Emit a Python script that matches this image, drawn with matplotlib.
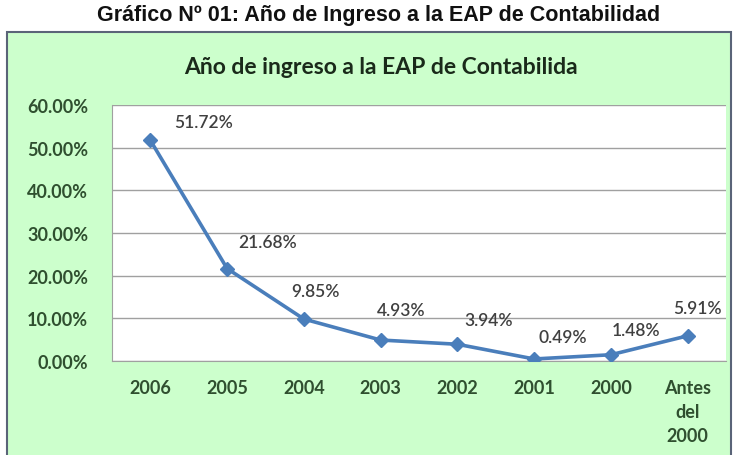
import matplotlib
matplotlib.use('Agg')
import matplotlib.pyplot as plt
from matplotlib.patches import Rectangle

# data
categorias = ['2006', '2005', '2004', '2003', '2002', '2001', '2000', 'Antes\ndel\n2000']
porcentajes = [51.72, 21.68, 9.85, 4.93, 3.94, 0.49, 1.48, 5.91]
yticks = [0, 10, 20, 30, 40, 50, 60]
# label offsets in pixels (dx, dy) from each point
offsets = [(53, 18), (40, 27), (12, 28), (21, 30), (31, 24), (29, 22), (25, 25), (10, 28)]

fig = plt.figure(figsize=(7.37, 4.56), dpi=100)
fig.patch.set_facecolor('white')

# green chart box
box = Rectangle((0.0095, -0.02), 0.982, 0.9476, transform=fig.transFigure,
                facecolor='#CCFFCC', edgecolor='#5A6478', linewidth=1.5, zorder=-5)
fig.patches.append(box)

fig.text(0.514, 0.965, 'Gráfico Nº 01: Año de Ingreso a la EAP de Contabilidad',
         ha='center', va='center', fontsize=15.5, fontweight='bold',
         family='Liberation Sans', color='#111111')
fig.text(0.517, 0.851, 'Año de ingreso a la EAP de Contabilida',
         ha='center', va='center', fontsize=16.5, fontweight='bold',
         family='Lato', color='#1a2a1a')

ax = fig.add_axes([0.152, 0.206, 0.833, 0.5614])
ax.set_zorder(2)
ax.set_facecolor('white')
x = range(len(categorias))
ax.plot(x, porcentajes, color='#4A7EBB', linewidth=2.6, marker='D',
        markersize=7.5, zorder=3)

for i, v in enumerate(porcentajes):
    ax.annotate(f'{v:.2f}%', (i, v), xytext=offsets[i], textcoords='offset pixels',
                ha='center', va='center', fontsize=12.5, family='Lato',
                fontweight='semibold', color='#404040')

ax.set_xlim(-0.5, len(categorias) - 0.5)
ax.set_ylim(0, 60)
ax.set_yticks(yticks)
ax.set_yticklabels([f'{t:.2f}%' for t in yticks])
ax.set_xticks(list(x))
ax.set_xticklabels(categorias, linespacing=1.5)
ax.yaxis.grid(True, color='#A0A0A0', linewidth=1)
ax.set_axisbelow(True)

for lab in ax.get_xticklabels() + ax.get_yticklabels():
    lab.set_family('Lato')
    lab.set_fontweight('bold')
    lab.set_fontsize(13)
    lab.set_color('#2F4F2F')
for lab in ax.get_xticklabels():
    lab.set_va('top')

ax.tick_params(axis='both', length=0)
ax.tick_params(axis='y', pad=17)
ax.tick_params(axis='x', pad=13)
for s in ['top', 'right']:
    ax.spines[s].set_visible(False)
ax.spines['left'].set_color('#A0A0A0')
ax.spines['bottom'].set_color('#A0A0A0')

fig.savefig('out.png', dpi=100)
